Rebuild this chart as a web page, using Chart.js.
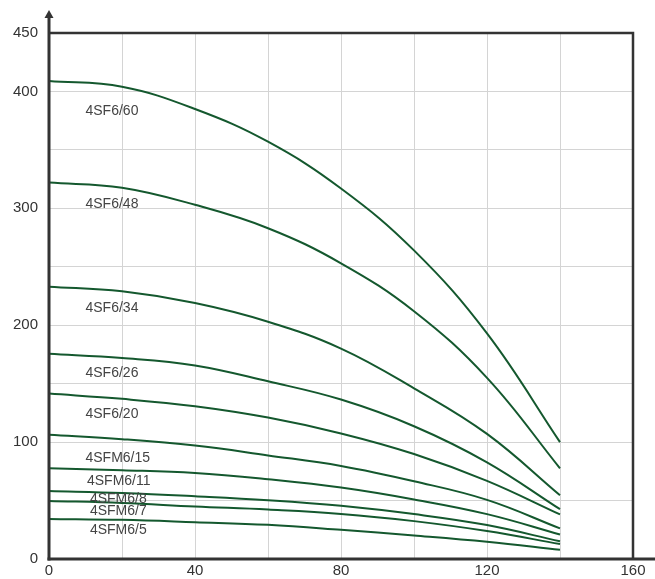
<!DOCTYPE html>
<html>
<head>
<meta charset="utf-8">
<script src="https://cdn.jsdelivr.net/npm/chart.js@4/dist/chart.umd.min.js"></script>
<style>
  html, body { margin: 0; padding: 0; background: #fff; }
  #wrap { width: 655px; height: 579px; position: relative; }
</style>
</head>
<body>
<div id="wrap"><canvas id="chartCanvas"></canvas></div>
<script>
// --- data (flow on x, head on y) ---
const flowX = [0, 20, 40, 60, 80, 100, 120, 140];

const sf6_60  = [409, 404, 385, 357, 317, 264, 193, 100];
const sf6_48  = [322, 317.6, 303, 283, 253, 212, 155, 77.6];
const sf6_34  = [233, 229, 219, 203, 180, 146, 107, 54.5];
const sf6_26  = [175.6, 172, 165.6, 152, 136.4, 113.6, 82.7, 42.6];
const sf6_20  = [141.5, 137, 130.7, 121, 107.4, 89.8, 66.8, 38.1];
const sfm6_15 = [106.3, 102.5, 97, 88.6, 79.6, 66.5, 50.6, 26.2];
const sfm6_11 = [77.6, 76, 73.6, 68.2, 61.1, 50.9, 38.4, 21];
const sfm6_8  = [58.2, 56.5, 53.7, 50.3, 45.5, 38.4, 29, 15.1];
const sfm6_7  = [49.7, 48, 44.9, 42.3, 38.6, 32.4, 23.9, 12.8];
const sfm6_5  = [34.3, 33.5, 31.5, 29.2, 25, 20.2, 14.8, 7.9];

const seriesNames = ["4SF6/60", "4SF6/48", "4SF6/34", "4SF6/26", "4SF6/20",
  "4SFM6/15", "4SFM6/11", "4SFM6/8", "4SFM6/7", "4SFM6/5"];
const seriesValues = [sf6_60, sf6_48, sf6_34, sf6_26, sf6_20,
  sfm6_15, sfm6_11, sfm6_8, sfm6_7, sfm6_5];

// where each curve name sits (data units)
const labelX = [10, 10, 10, 10, 10, 10, 10.4, 11.2, 11.2, 11.2];
const labelY = [383, 304, 215, 159, 124, 86, 66.7, 51.2, 40.7, 25];

const xTicks = [0, 40, 80, 120, 160];
const yTicks = [0, 100, 200, 300, 400, 450];

const curveColor = "#14582e";
const axisColor = "#333333";
const gridColor = "#d4d4d4";

// --- axes frame, arrow and curve names ---
const framePlugin = {
  id: "frame",
  afterDraw(chart) {
    const { ctx, chartArea: a, scales } = chart;
    ctx.save();
    ctx.strokeStyle = axisColor;
    ctx.fillStyle = axisColor;

    // top + right border
    ctx.lineWidth = 2.5;
    ctx.beginPath();
    ctx.moveTo(a.left, a.top);
    ctx.lineTo(a.right, a.top);
    ctx.lineTo(a.right, a.bottom);
    ctx.stroke();

    // left axis with arrow going up
    ctx.lineWidth = 3;
    ctx.beginPath();
    ctx.moveTo(a.left, a.bottom + 1.5);
    ctx.lineTo(a.left, 16);
    ctx.stroke();
    ctx.beginPath();
    ctx.moveTo(a.left, 10);
    ctx.lineTo(a.left - 4.5, 18);
    ctx.lineTo(a.left + 4.5, 18);
    ctx.closePath();
    ctx.fill();

    // bottom axis runs to the edge
    ctx.beginPath();
    ctx.moveTo(a.left - 1.5, a.bottom);
    ctx.lineTo(chart.width, a.bottom);
    ctx.stroke();

    // curve names
    ctx.fillStyle = "#444";
    ctx.font = "14px 'Liberation Sans', Arial, sans-serif";
    ctx.textAlign = "left";
    ctx.textBaseline = "middle";
    seriesNames.forEach((n, i) => {
      ctx.fillText(n, scales.x.getPixelForValue(labelX[i]), scales.y.getPixelForValue(labelY[i]));
    });
    ctx.restore();
  }
};

const datasets = seriesValues.map((vals, i) => ({
  label: seriesNames[i],
  data: flowX.map((x, j) => ({ x, y: vals[j] })),
  borderColor: curveColor,
  borderWidth: 2,
  pointRadius: 0,
  tension: 0.4,
  fill: false
}));

new Chart(document.getElementById("chartCanvas"), {
  type: "line",
  data: { datasets },
  options: {
    responsive: true,
    maintainAspectRatio: false,
    animation: false,
    layout: { padding: { top: 33, right: 22, left: 0, bottom: 0 } },
    plugins: { legend: { display: false }, tooltip: { enabled: false } },
    scales: {
      x: {
        type: "linear",
        min: 0,
        max: 160,
        afterFit: s => { s.height = 18; },
        grid: { color: gridColor, lineWidth: 1, drawTicks: false },
        border: { display: false },
        ticks: {
          stepSize: 20,
          padding: 3,
          color: "#333",
          font: { size: 15, family: "'Liberation Sans', Arial, sans-serif" },
          maxRotation: 0,
          callback: v => xTicks.includes(v) ? String(v) : ""
        }
      },
      y: {
        min: 0,
        max: 450,
        afterFit: s => { s.width = 49; },
        grid: { color: gridColor, lineWidth: 1, drawTicks: false },
        border: { display: false },
        ticks: {
          stepSize: 50,
          padding: 11,
          color: "#333",
          font: { size: 15, family: "'Liberation Sans', Arial, sans-serif" },
          callback: v => yTicks.includes(v) ? String(v) : ""
        }
      }
    }
  },
  plugins: [framePlugin]
});
</script>
</body>
</html>
